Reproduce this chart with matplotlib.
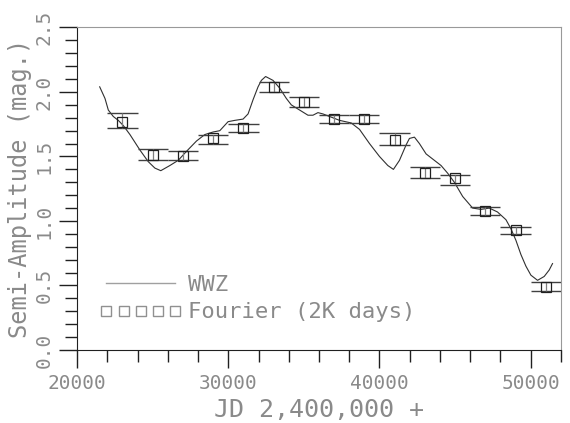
import matplotlib.pyplot as plt
import numpy as np

# WWZ semi-amplitude curve
wwz_jd = [21500, 21850, 22070, 22400, 22730, 23060, 23500, 24160, 24710, 25150,
          25540, 26140, 26690, 27240, 27900, 28450, 29000, 29440, 29990, 30430,
          30980, 31310, 31640, 31970, 32190, 32470, 32960, 33400, 33840, 34170,
          34720, 35270, 35600, 35930, 36260, 36700, 37140, 37360, 38130, 38680,
          39340, 40000, 40550, 40920, 41320, 41760, 41980, 42310, 42640, 43080,
          43630, 44070, 44510, 44950, 45500, 46160, 46710, 47260, 47800, 48360,
          48690, 49020, 49350, 49680, 50010, 50450, 50890, 51220, 51440]
wwz_amp = [2.04, 1.95, 1.86, 1.81, 1.78, 1.74, 1.67, 1.55, 1.46, 1.41,
           1.39, 1.43, 1.47, 1.54, 1.62, 1.67, 1.69, 1.70, 1.77, 1.78,
           1.79, 1.83, 1.94, 2.04, 2.09, 2.12, 2.09, 2.03, 1.95, 1.90,
           1.86, 1.82, 1.82, 1.84, 1.83, 1.81, 1.79, 1.78, 1.76, 1.71,
           1.60, 1.50, 1.43, 1.40, 1.47, 1.59, 1.64, 1.65, 1.60, 1.52,
           1.47, 1.43, 1.37, 1.30, 1.19, 1.10, 1.09, 1.10, 1.07, 1.01,
           0.94, 0.85, 0.74, 0.65, 0.58, 0.54, 0.57, 0.62, 0.67]

# Fourier fits in 2000-day windows
four_jd = [23000, 25000, 27000, 29000, 31000, 33000, 35000, 37000,
           39000, 41000, 43000, 45000, 47000, 49000, 51000]
four_amp = [1.77, 1.51, 1.50, 1.64, 1.72, 2.04, 1.92, 1.79,
            1.79, 1.63, 1.37, 1.33, 1.08, 0.93, 0.49]
four_hi = [1.84, 1.56, 1.54, 1.67, 1.75, 2.08, 1.96, 1.82,
           1.82, 1.68, 1.42, 1.36, 1.11, 0.95, 0.53]
four_lo = [1.72, 1.47, 1.47, 1.60, 1.69, 2.00, 1.88, 1.76,
           1.76, 1.59, 1.33, 1.28, 1.05, 0.90, 0.46]
window = 2000

txt = '#8a8a8a'
plt.rcParams['font.family'] = ['DejaVu Sans Mono']

fig = plt.figure(figsize=(5.7, 4.23), dpi=100)
ax = fig.add_axes([0.1351, 0.1726, 0.8491, 0.7624])

ax.plot(wwz_jd, wwz_amp, color='#303030', lw=0.8)

fx = np.array(four_jd)
ax.hlines(four_hi, fx - window / 2, fx + window / 2, color='#404040', lw=1.0)
ax.hlines(four_lo, fx - window / 2, fx + window / 2, color='#404040', lw=1.0)
ax.vlines(fx, four_lo, four_hi, color='#808080', lw=0.9)
ax.plot(four_jd, four_amp, ls='none', marker='s', ms=7.5, mfc='none',
        mec='#202020', mew=0.9)

# legend (line + row of five squares)
h1 = plt.Line2D([], [], color='#a0a0a0', lw=1.0)
h2 = plt.Line2D([], [], ls='none', marker='s', ms=6.5, mfc='none',
                mec='#909090', mew=1.0)
ax.legend([h1, h2], ['WWZ', 'Fourier (2K days)'], numpoints=5,
          loc='upper left', bbox_to_anchor=(0.047, 0.232), borderaxespad=0,
          borderpad=0, frameon=False, handlelength=3.7, handletextpad=0.25,
          labelspacing=0.32, prop={'size': 16}, labelcolor=txt)

ax.set_xlim(20000, 52000)
ax.set_ylim(0, 2.5)
ax.set_xticks([20000, 30000, 40000, 50000])
ax.set_xticks(np.arange(20000, 52001, 2000), minor=True)
ax.set_yticks(np.arange(0, 2.51, 0.5))
ax.set_yticks(np.arange(0, 2.51, 0.1), minor=True)
ax.set_xticklabels(['20000', '30000', '40000', '50000'])
ax.set_yticklabels(['0.0', '0.5', '1.0', '1.5', '2.0', '2.5'],
                   rotation=90, va='center')

ax.tick_params(which='major', direction='out', length=13, width=1.0,
               color='#202020', labelsize=14, labelcolor=txt, pad=4)
ax.tick_params(which='minor', direction='out', length=8.5, width=1.0,
               color='#202020')

for s in ['left', 'bottom']:
    ax.spines[s].set_color('#202020')
for s in ['top', 'right']:
    ax.spines[s].set_color('#999999')

ax.set_xlabel('JD 2,400,000 +', fontsize=18, color=txt, labelpad=4)
ax.set_ylabel('Semi-Amplitude (mag.)', fontsize=17, color=txt, labelpad=2)

fig.savefig('out.png', dpi=100)
